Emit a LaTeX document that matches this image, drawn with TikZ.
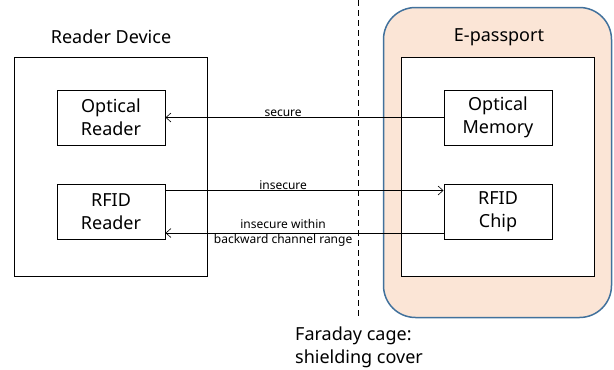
\documentclass[tikz,border=0pt]{standalone}
\usepackage{fontspec}
\setmainfont{Noto Sans}
\usetikzlibrary{arrows.meta}
\definecolor{cagefill}{RGB}{251,229,214}
\definecolor{cageline}{RGB}{65,113,156}

\begin{document}
\begin{tikzpicture}
        [
            x = 1pt, y = -1pt,
            box/.style = {draw, line width = 1pt, minimum width = 108pt, minimum height = 55pt,
                          align = center, inner sep = 0pt, font = \fontsize{18}{23}\selectfont},
            frame/.style = {draw, line width = 1pt, fill = white, minimum width = 193pt, minimum height = 219pt},
            title/.style = {font = \fontsize{18}{23}\selectfont},
            link/.style = {draw, line width = 0.6pt, -{Straight Barb[length = 5pt, width = 9pt]}},
            tag/.style = {font = \fontsize{12}{15.5}\selectfont, align = center, inner sep = 1pt}
        ]

        \useasboundingbox (0,0) rectangle (614,370);

        % e-passport inside the shielding cover
        \node [draw = cageline, fill = cagefill, line width = 1.5pt, rounded corners = 32pt,
               minimum width = 228pt, minimum height = 310pt] (cage) at (497.5,162.5) {};
        \node [frame] (passport) at (498,166.5) {};
        \node [title] at (499,37) {E-passport};
        \node [box] (memory) at (498,117.5) {Optical\\Memory};
        \node [box] (chip) at (498,212) {RFID\\Chip};

        % reader side
        \node [frame] (reader) at (110.5,166.5) {};
        \node [title] at (111,37) {Reader Device};
        \node [box] (optical) at (111,117.5) {Optical\\Reader};
        \node [box] (rfid) at (111,212) {RFID\\Reader};

        % faraday cage border
        \coordinate (cagetop) at (358,0);
        \coordinate (cagebottom) at (358,318);
        \draw [line width = 0.8pt, dash pattern = on 6pt off 4pt] (cagetop) -- (cagebottom);
        \node [anchor = north west, align = left, inner sep = 0pt, font = \fontsize{18}{23}\selectfont]
            (faraday) at (295,327) {Faraday cage:\\shielding cover};

        % channels
        \draw [link] (memory.west) -- node [tag, pos = 0.577, above] {secure} (optical.east);
        \draw [link] ([yshift = -6.5pt]rfid.north east) --
            node [tag, pos = 0.423, above] {insecure} ([yshift = -6.5pt]chip.north west);
        \draw [link] ([yshift = 7pt]chip.south west) --
            node [tag, pos = 0.577] {insecure within\\backward channel range} ([yshift = 7pt]rfid.south east);
    \end{tikzpicture}
\end{document}
